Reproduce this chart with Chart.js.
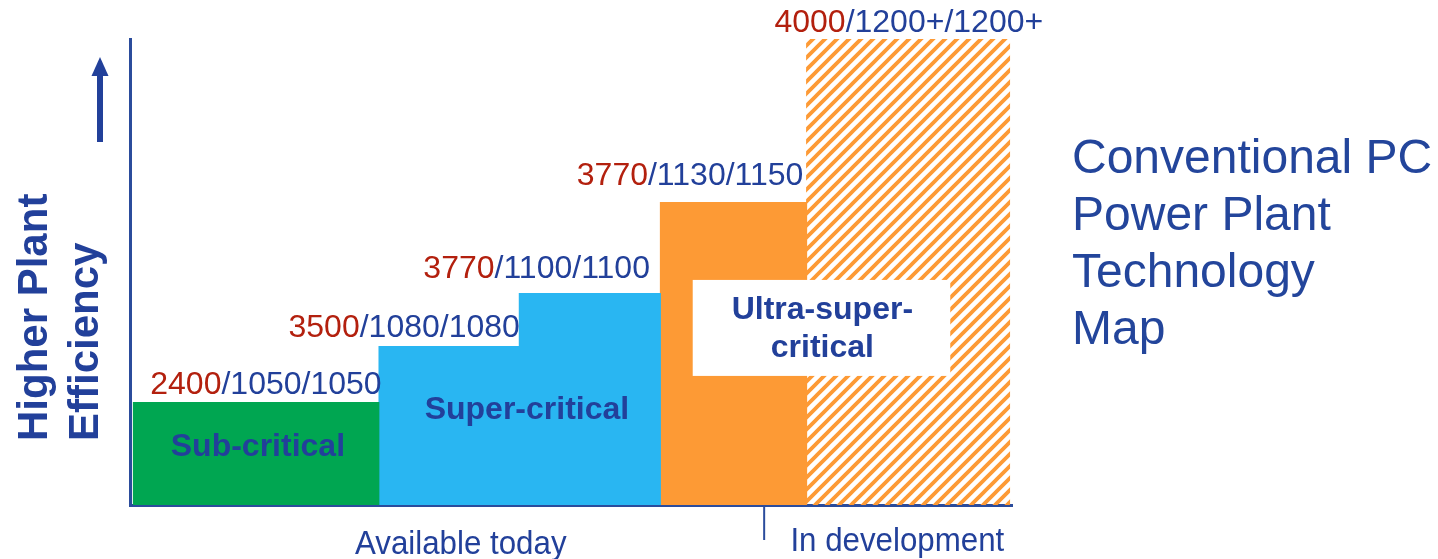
<!DOCTYPE html>
<html>
<head>
<meta charset="utf-8">
<script src="https://cdn.jsdelivr.net/npm/chart.js@4.4.0/dist/chart.umd.min.js"></script>
<style>
  html, body { margin: 0; padding: 0; background: #fff; }
  .wrap { position: relative; width: 1438px; height: 559px; }
</style>
</head>
<body>
<div class="wrap"><canvas class="tech-chart"></canvas></div>
<script>
// data (x: technology span, y: relative plant efficiency)
const technologies = ["Sub-critical", "Super-critical", "Super-critical", "Ultra-super-critical", "In development"];
const stepStart = [0.3, 28.3, 44.2, 60.2, 76.8];
const stepEnd = [28.3, 44.2, 60.2, 76.8, 99.8];
const efficiencyLevel = [22.1, 34.1, 45.5, 65.0, 100];
// steam conditions: pressure (psi) / main steam temp / reheat temp (F)
const steamPressure = ["2400", "3500", "3770", "3770", "4000"];
const steamTemps = ["1050/1050", "1080/1080", "1100/1100", "1130/1150", "1200+/1200+"];
const stageLabels = ["Available today", "In development"];
const titleLines = ["Conventional PC", "Power Plant", "Technology", "Map"];
const axisTitle = ["Higher Plant", "Efficiency"];

const FONT = '"Liberation Sans", Arial, sans-serif';
const BLUE = "#22409a";
const RED = "#b3200e";
const AXIS = "#2b4c9c";
const ORANGE = "#fd9a35";
const stepColors = ["#00a651", "#29b6f2", "#29b6f2", ORANGE, ORANGE];
const SEAM = 0.15; // tuck each step under the previous one so no gap shows

function makeHatch() {
  const c = document.createElement("canvas");
  c.width = 12;
  c.height = 12;
  const g = c.getContext("2d");
  g.strokeStyle = ORANGE;
  g.lineWidth = 3.8;
  g.beginPath();
  g.moveTo(-3, 15); g.lineTo(15, -3);
  g.moveTo(-3, 3); g.lineTo(3, -3);
  g.moveTo(9, 15); g.lineTo(15, 9);
  g.stroke();
  return g.createPattern(c, "repeat");
}

const annotate = {
  id: "annotate",
  afterDraw(chart, args, opts) {
    const { ctx, scales: { x, y } } = chart;
    ctx.save();

    // steam condition labels above each step
    ctx.font = `32px ${FONT}`;
    ctx.textAlign = "left";
    ctx.textBaseline = "alphabetic";
    technologies.forEach((t, i) => {
      const red = steamPressure[i];
      const blue = "/" + steamTemps[i];
      const wRed = ctx.measureText(red).width;
      const w = wRed + ctx.measureText(blue).width;
      const [dx, gap] = opts.valueNudge[i];
      let x0;
      if (opts.valueAlign[i] === "center") {
        x0 = (x.getPixelForValue(stepStart[i]) + x.getPixelForValue(stepEnd[i])) / 2 - w / 2;
      } else {
        x0 = x.getPixelForValue(stepEnd[i]) - w;
      }
      x0 += dx;
      const yb = y.getPixelForValue(efficiencyLevel[i]) - gap;
      ctx.fillStyle = RED;
      ctx.fillText(red, x0, yb);
      ctx.fillStyle = BLUE;
      ctx.fillText(blue, x0 + wRed, yb);
    });

    // category names inside the bars
    ctx.font = `bold 32px ${FONT}`;
    ctx.textAlign = "center";
    ctx.textBaseline = "middle";
    ctx.fillStyle = BLUE;
    opts.names.forEach((n) => {
      ctx.fillText(n.text, x.getPixelForValue(n.x), y.getPixelForValue(n.y));
    });

    // white box for ultra-super-critical
    const b = opts.box;
    const bx0 = x.getPixelForValue(b.x0), bx1 = x.getPixelForValue(b.x1);
    const by0 = y.getPixelForValue(b.y1), by1 = y.getPixelForValue(b.y0);
    ctx.fillStyle = "#fff";
    ctx.fillRect(bx0, by0, bx1 - bx0, by1 - by0);
    ctx.fillStyle = BLUE;
    b.lines.forEach((l, k) => {
      ctx.fillText(l, x.getPixelForValue(b.cx), y.getPixelForValue(b.ly[k]));
    });

    // stage divider and labels under the axis
    const bottom = chart.chartArea.bottom;
    const dv = x.getPixelForValue(opts.divider);
    ctx.strokeStyle = AXIS;
    ctx.lineWidth = 2;
    ctx.beginPath();
    ctx.moveTo(dv, bottom);
    ctx.lineTo(dv, bottom + 35);
    ctx.stroke();
    ctx.font = `34px ${FONT}`;
    ctx.textBaseline = "alphabetic";
    stageLabels.forEach((s, k) => {
      ctx.save();
      ctx.translate(x.getPixelForValue(opts.stageAt[k]), bottom + opts.stageDrop[k]);
      ctx.scale(0.92, 1);
      ctx.fillText(s, 0, 0);
      ctx.restore();
    });

    // efficiency arrow and rotated axis title
    ctx.fillStyle = BLUE;
    ctx.fillRect(97, 74, 6, 68);
    ctx.beginPath();
    ctx.moveTo(100, 57);
    ctx.lineTo(108.5, 76);
    ctx.lineTo(91.5, 76);
    ctx.closePath();
    ctx.fill();

    ctx.font = `bold 42px ${FONT}`;
    ctx.textAlign = "left";
    [47, 98].forEach((bx, k) => {
      ctx.save();
      ctx.translate(bx, 441);
      ctx.rotate(-Math.PI / 2);
      ctx.fillText(axisTitle[k], 0, 0);
      ctx.restore();
    });

    // chart title on the right
    ctx.font = `48px ${FONT}`;
    ctx.fillStyle = "#23459b";
    titleLines.forEach((l, k) => {
      ctx.fillText(l, 1072, 173 + k * 57);
    });

    ctx.restore();
  },
};

const hatch = makeHatch();

const config = {
  type: "line",
  data: {
    datasets: technologies.map((t, i) => ({
      label: t,
      data: [
        { x: i === 0 ? stepStart[i] : stepStart[i] - SEAM, y: efficiencyLevel[i] },
        { x: stepEnd[i], y: efficiencyLevel[i] },
      ],
      backgroundColor: i === 4 ? hatch : stepColors[i],
      borderColor: "rgba(0,0,0,0)",
      borderWidth: 0,
      pointRadius: 0,
      fill: "origin",
    })),
  },
  options: {
    responsive: true,
    maintainAspectRatio: false,
    animation: false,
    layout: { padding: { left: 130, right: 426, top: 39, bottom: 54 } },
    scales: {
      x: {
        type: "linear",
        min: 0,
        max: 100,
        ticks: { display: false },
        grid: { display: false, drawTicks: false },
        border: { display: true, color: AXIS, width: 3 },
      },
      y: {
        min: 0,
        max: 100,
        ticks: { display: false },
        grid: { display: false, drawTicks: false },
        border: { display: true, color: AXIS, width: 3 },
      },
    },
    plugins: {
      legend: { display: false },
      tooltip: { enabled: false },
      annotate: {
        valueAlign: ["right", "right", "right", "right", "center"],
        valueNudge: [[2, 8], [0, 9], [-11, 15], [-4, 17], [0, 7]],
        names: [
          { text: "Sub-critical", x: 14.5, y: 12.4 },
          { text: "Super-critical", x: 45.0, y: 20.4 },
        ],
        box: {
          x0: 63.8, x1: 93.0, y0: 27.7, y1: 48.3,
          cx: 78.5, ly: [41.8, 33.7],
          lines: ["Ultra-super-", "critical"],
        },
        divider: 71.9,
        stageAt: [37.5, 87.0],
        stageDrop: [49, 46],
      },
    },
  },
  plugins: [annotate],
};

new Chart(document.querySelector(".tech-chart").getContext("2d"), config);
</script>
</body>
</html>
